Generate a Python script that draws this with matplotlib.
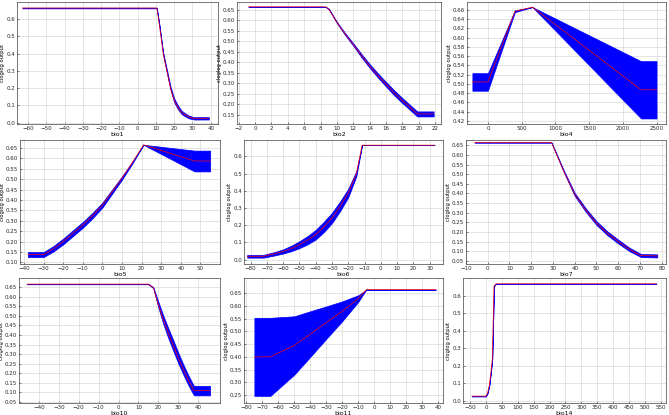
"""
Response curves (cloglog output) for the bioclim predictors
"""
import numpy as np
import matplotlib
matplotlib.use('Agg')
import matplotlib.pyplot as plt
import matplotlib as mpl

mpl.rcParams['font.family'] = 'DejaVu Sans'
mpl.rcParams['xtick.labelsize'] = 4
mpl.rcParams['ytick.labelsize'] = 4
mpl.rcParams['axes.labelsize'] = 4.5

#==============================================================================
# data: x, mean response and half band width (sd)

names = ['bio1', 'bio2', 'bio4', 'bio5', 'bio6', 'bio7', 'bio10', 'bio11', 'bio14']

bio1_x = [-63, 10.5, 12, 13, 14, 16, 18, 20, 22, 24, 26, 28, 30, 31, 39]
bio1_y = [0.665, 0.665, 0.56, 0.48, 0.40, 0.30, 0.20, 0.13, 0.09, 0.06, 0.045, 0.033, 0.027, 0.025, 0.025]
bio1_sd = [0.002, 0.002, 0.005, 0.006, 0.007, 0.009, 0.010, 0.011, 0.011, 0.010, 0.009, 0.008, 0.007, 0.007, 0.007]

bio2_x = [-0.8, 8.6, 9, 10, 11, 12, 13, 14, 15, 16, 17, 18, 19, 19.8, 21.8]
bio2_y = [0.665, 0.665, 0.655, 0.59, 0.535, 0.485, 0.432, 0.383, 0.338, 0.296, 0.255, 0.218, 0.183, 0.155, 0.155]
bio2_sd = [0.001, 0.001, 0.002, 0.003, 0.005, 0.006, 0.008, 0.009, 0.010, 0.011, 0.012, 0.012, 0.012, 0.012, 0.012]

bio4_x = [-230, 0, 400, 660, 2270, 2500]
bio4_y = [0.504, 0.504, 0.657, 0.666, 0.487, 0.487]
bio4_sd = [0.019, 0.019, 0.002, 0.0, 0.062, 0.062]

bio5_x = [-38, -30, -25, -20, -15, -10, -5, 0, 5, 10, 15, 21, 47, 55]
bio5_y = [0.137, 0.137, 0.165, 0.20, 0.24, 0.28, 0.325, 0.375, 0.44, 0.505, 0.575, 0.665, 0.587, 0.587]
bio5_sd = [0.012, 0.012, 0.013, 0.014, 0.014, 0.014, 0.013, 0.012, 0.010, 0.008, 0.005, 0.0, 0.05, 0.05]

bio6_x = [-82, -72, -65, -60, -55, -50, -45, -40, -35, -30, -25, -20, -15, -11.5, 33]
bio6_y = [0.02, 0.02, 0.035, 0.048, 0.065, 0.087, 0.113, 0.145, 0.19, 0.242, 0.31, 0.387, 0.50, 0.665, 0.665]
bio6_sd = [0.008, 0.008, 0.010, 0.012, 0.016, 0.020, 0.024, 0.028, 0.030, 0.030, 0.028, 0.025, 0.015, 0.0, 0.0]

bio7_x = [-6, 29.3, 30, 35, 40, 45, 50, 55, 60, 65, 70.5, 78]
bio7_y = [0.665, 0.665, 0.647, 0.515, 0.395, 0.315, 0.246, 0.193, 0.15, 0.11, 0.077, 0.075]
bio7_sd = [0.001, 0.001, 0.002, 0.005, 0.008, 0.009, 0.010, 0.010, 0.010, 0.009, 0.008, 0.008]

bio10_x = [-46, 15, 17.5, 20, 22.5, 25, 27.5, 30, 32.5, 35, 37.5, 38, 46]
bio10_y = [0.667, 0.667, 0.648, 0.56, 0.48, 0.41, 0.345, 0.28, 0.22, 0.165, 0.115, 0.108, 0.108]
bio10_sd = [0.001, 0.001, 0.003, 0.015, 0.022, 0.026, 0.028, 0.028, 0.027, 0.026, 0.025, 0.025, 0.025]

bio11_x = [-75, -65, -60, -50, -40, -30, -20, -10, -5, 38.5]
bio11_y = [0.40, 0.40, 0.415, 0.445, 0.49, 0.535, 0.58, 0.63, 0.665, 0.665]
bio11_sd = [0.154, 0.154, 0.141, 0.115, 0.09, 0.064, 0.039, 0.013, 0.0, 0.0]

bio14_x = [-44, 0, 5, 10.7, 16, 20, 25.4, 31.7, 536]
bio14_y = [0.028, 0.028, 0.045, 0.09, 0.17, 0.24, 0.655, 0.667, 0.667]
bio14_sd = [0.002, 0.002, 0.002, 0.002, 0.002, 0.002, 0.002, 0.001, 0.001]

curves = [(bio1_x, bio1_y, bio1_sd), (bio2_x, bio2_y, bio2_sd), (bio4_x, bio4_y, bio4_sd),
          (bio5_x, bio5_y, bio5_sd), (bio6_x, bio6_y, bio6_sd), (bio7_x, bio7_y, bio7_sd),
          (bio10_x, bio10_y, bio10_sd), (bio11_x, bio11_y, bio11_sd), (bio14_x, bio14_y, bio14_sd)]

#==============================================================================
# axes setup per panel: pixel box (left, top, right, bottom), limits, ticks

W, H = 669., 415.
boxes = [(17, 2, 218, 124), (237, 2, 441, 124), (467, 2, 666, 124),
         (20, 140, 220, 264), (244, 140, 443, 264), (466, 140, 666, 264),
         (19, 278, 220, 403), (244, 278, 443, 403), (463, 278, 666, 403)]
xlims = [(-66, 44), (-2.2, 22.7), (-310, 2640), (-42, 60), (-84, 38.2),
         (-10, 82), (-50, 51), (-81.5, 43), (-72, 566)]
ylims = [(-0.008, 0.70), (0.107, 0.688), (0.413, 0.677), (0.092, 0.688), (-0.025, 0.695),
         (0.033, 0.678), (0.043, 0.699), (0.218, 0.711), (-0.011, 0.70)]
xticks = [np.arange(-60, 41, 10), np.arange(-2, 23, 2), np.arange(0, 2501, 500),
          np.arange(-40, 51, 10), np.arange(-80, 31, 10), np.arange(-10, 81, 10),
          np.arange(-40, 41, 10), np.arange(-80, 41, 10), np.arange(-50, 551, 50)]
yticks = [np.arange(0, 0.61, 0.1), np.arange(0.15, 0.66, 0.05), np.arange(0.42, 0.67, 0.02),
          np.arange(0.10, 0.66, 0.05), np.arange(0, 0.61, 0.1), np.arange(0.05, 0.66, 0.05),
          np.arange(0.05, 0.66, 0.05), np.arange(0.25, 0.66, 0.05), np.arange(0, 0.61, 0.1)]
yfmt = ['%.1f', '%.2f', '%.2f', '%.2f', '%.1f', '%.2f', '%.2f', '%.2f', '%.1f']

fig = plt.figure(figsize=(W / 100, H / 100), dpi=100)

for i, (x, y, sd) in enumerate(curves):
    l, t, r, b = boxes[i]
    ax = fig.add_axes([l / W, 1 - b / H, (r - l) / W, (b - t) / H])
    x = np.array(x, dtype=float)
    y = np.array(y)
    sd = np.array(sd)

    ax.fill_between(x, y - sd, y + sd, color=(0, 0, 1), lw=0.5, edgecolor=(0, 0, 1), zorder=2)
    ax.plot(x, y, color='red', lw=0.5, zorder=3)

    ax.set_xlim(xlims[i])
    ax.set_ylim(ylims[i])
    ax.set_xticks(xticks[i])
    ax.set_yticks(yticks[i])
    ax.set_yticklabels([yfmt[i] % v for v in yticks[i]])
    ax.grid(True, color='#d9d9d9', lw=0.5)
    ax.set_axisbelow(True)
    ax.tick_params(direction='in', length=1.5, width=0.4, pad=1.5, colors='#262626')
    for s in ax.spines.values():
        s.set_linewidth(0.5)
        s.set_color('#404040')
    ax.set_xlabel(names[i], labelpad=0.5)
    ax.set_ylabel('cloglog output', fontsize=3.8, labelpad=0.5)

plt.savefig('out.png', dpi=100)
